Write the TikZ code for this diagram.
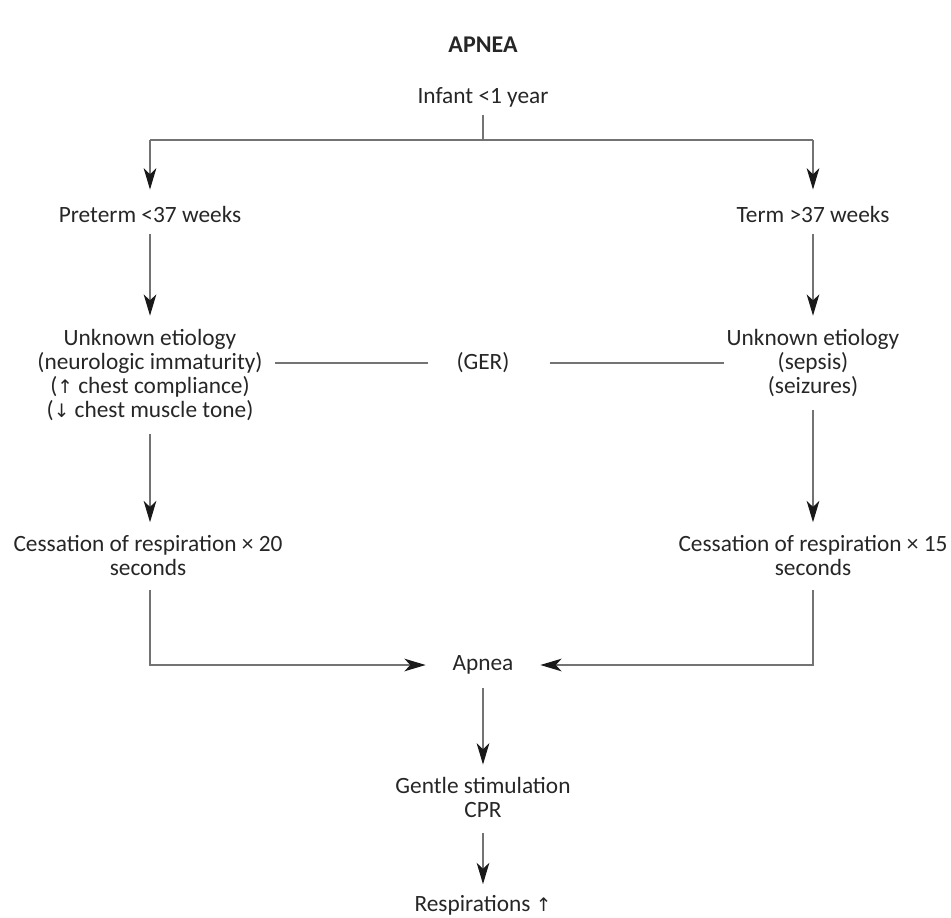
\documentclass[tikz,border=0pt]{standalone}
\usepackage{fontspec}
\setmainfont{Carlito}
\newfontfamily\symfont{DejaVu Sans}
\usetikzlibrary{arrows.meta}
\newcommand{\uparr}{{\symfont\fontsize{14}{18}\selectfont ↑}}
\newcommand{\downarr}{{\symfont\fontsize{14}{18}\selectfont ↓}}
\begin{document}
\begin{tikzpicture}[x=0.75pt,y=-0.75pt,
  txt/.style={align=center,inner sep=0pt,text=black!85,font=\fontsize{17.5}{18}\selectfont},
  link/.style={draw=black!55,line width=0.9pt},
  flow/.style={link,-{Stealth[length=16pt,width=9.5pt,inset=4.5pt,color=black!90]}},
]
\useasboundingbox (0,0) rectangle (951,918);

% title and nodes
\node[txt,font=\bfseries\fontsize{18}{18}\selectfont] (title) at (483,45) {APNEA};
\node[txt] (infant) at (483,97) {Infant <1 year};
\node[txt] (pre) at (150,214) {Preterm <37 weeks};
\node[txt] (term) at (813,214) {Term >37 weeks};
\node[txt] (ul) at (150,375) {Unknown etiology\\(neurologic immaturity)\\(\uparr\ chest compliance)\\(\downarr\ chest muscle tone)};
\node[txt] (ur) at (813,363) {Unknown etiology\\(sepsis)\\(seizures)};
\node[txt] (ger) at (483,363) {(GER)};
\node[txt] (cl) at (148,556) {Cessation of respiration \texttimes\ 20\\seconds};
\node[txt] (cr) at (813,556) {Cessation of respiration \texttimes\ 15\\seconds};
\node[txt] (apnea) at (483,665) {Apnea};
\node[txt] (gentle) at (483,797) {Gentle stimulation\\CPR};
\node[txt] (resp) at (483,905) {Respirations \uparr};

% branching from the top
\coordinate (split) at (483,140);
\coordinate (lsplit) at (150,140);
\coordinate (rsplit) at (813,140);
\draw[link,shorten <=6pt] (infant.south) -- (split);
\draw[link] (lsplit) -- (rsplit);
\draw[flow,shorten >=12pt] (lsplit) -- (lsplit |- pre.north);
\draw[flow,shorten >=12pt] (rsplit) -- (rsplit |- term.north);

% vertical steps
\draw[flow,shorten <=9pt,shorten >=10pt] (pre.south) -- (ul.north);
\draw[flow,shorten <=9pt,shorten >=10pt] (term.south) -- (ur.north);
\draw[flow,shorten <=10pt,shorten >=10pt] (ul.south) -- (ul.south |- cl.north);
\draw[flow,shorten <=10pt,shorten >=10pt] (ur.south) -- (ur.south |- cr.north);

% GER links
\draw[link,shorten <=21pt,shorten >=9pt] (ger.west) -- (ger.west -| ul.east);
\draw[link,shorten <=30pt,shorten >=2pt] (ger.east) -- (ger.east -| ur.west);

% joining into apnea
\draw[flow,shorten <=10pt,shorten >=20pt] (cl.south -| ul.south) |- (apnea.west);
\draw[flow,shorten <=10pt,shorten >=20pt] (cr.south) |- (apnea.east);

% lower chain
\draw[flow,shorten <=10pt,shorten >=9pt] (apnea.south) -- (gentle.north);
\draw[flow,shorten <=12pt,shorten >=8pt] (gentle.south) -- (resp.north);
\end{tikzpicture}
\end{document}
